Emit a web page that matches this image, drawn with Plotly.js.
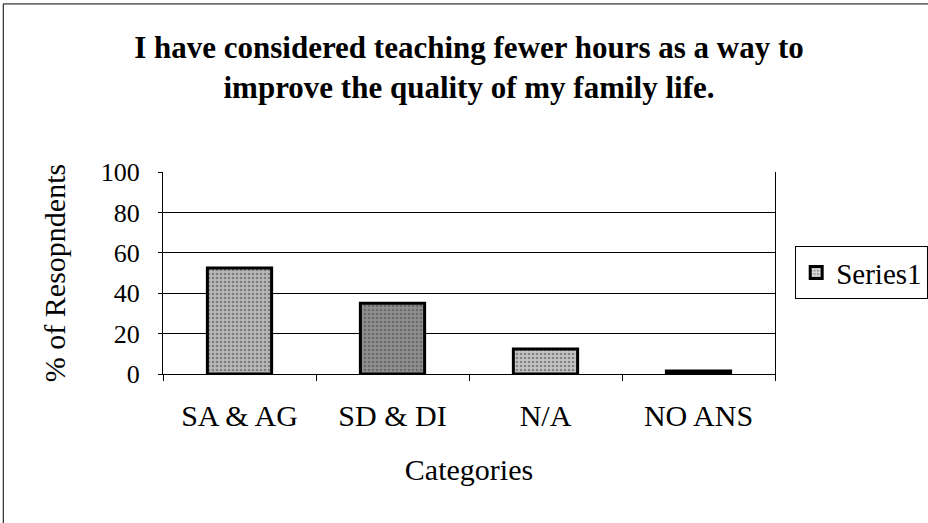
<!DOCTYPE html>
<html><head><meta charset="utf-8">
<script src="https://cdn.plot.ly/plotly-3.0.1.min.js"></script>
<style>html,body{margin:0;padding:0;background:#fff;}#chart{width:928px;height:523px;}</style>
</head><body><div id="chart"></div>
<script>
const categories = ["SA & AG", "SD & DI", "N/A", "NO ANS"];
const seriesName = "Series1";
const values = [52.5, 35, 12.4, 1.5];
const barColors = ["#b8b8b8", "#8f8f8f", "#c4c4c4", "#9a9a9a"];
const yTicks = [0, 20, 40, 60, 80, 100];

const F = "Liberation Serif, Times New Roman, serif";
const trace = {
  type: "bar", x: categories, y: values, name: seriesName, showlegend: true,
  marker: { color: barColors, line: { color: "#000", width: 3 },
    pattern: { shape: ".", fgcolor: "#555", bgcolor: "#d8d8d8", size: 4, solidity: 0.35, fillmode: "overlay" } },
  width: 0.42
};
const layout = {
  width: 928, height: 523,
  margin: { l: 163, r: 153, t: 172, b: 149, autoexpand: false },
  paper_bgcolor: "#fff", plot_bgcolor: "#fff",
  font: { family: F, color: "#000" },
  title: { text: "<b>I have considered teaching fewer hours as a way to<br>improve the quality of my family life.</b>",
    font: { family: F, size: 31, color: "#000" }, x: 0.5, xref: "paper", y: 0.89, yanchor: "middle", xanchor: "center" },
  xaxis: { type: "category", showline: true, linecolor: "#000", linewidth: 1, mirror: false, automargin: false,
    ticks: "outside", ticklen: 6, tickcolor: "#000", tickson: "boundaries",
    tickfont: { family: F, size: 30 }, showgrid: false, ticklabelstandoff: 15,
    title: { text: "Categories", font: { family: F, size: 30 }, standoff: 27 } },
  yaxis: { range: [0, 100], tickvals: yTicks, showline: true, linecolor: "#000", linewidth: 1, mirror: true, automargin: false,
    ticks: "outside", ticklen: 4, tickcolor: "#000", showgrid: true, gridcolor: "#000", gridwidth: 1,
    tickfont: { family: F, size: 26 }, zeroline: false, ticklabelstandoff: 13,
    title: { text: "% of Resopndents", font: { family: F, size: 30 }, standoff: 26 } },
  legend: { x: 1.033, y: 0.371, xanchor: "left", yanchor: "bottom", bordercolor: "#000", borderwidth: 1,
    font: { family: F, size: 29 }, bgcolor: "#fff" },
  shapes: [
    { type: "rect", xref: "paper", yref: "paper", x0: -0.261, x1: 1.9, y0: -1.5, y1: 1.832,
      line: { color: "#000", width: 1 }, fillcolor: "rgba(0,0,0,0)" }
  ]
};
Plotly.newPlot("chart", [trace], layout, { displayModeBar: false, staticPlot: true });
</script></body></html>
